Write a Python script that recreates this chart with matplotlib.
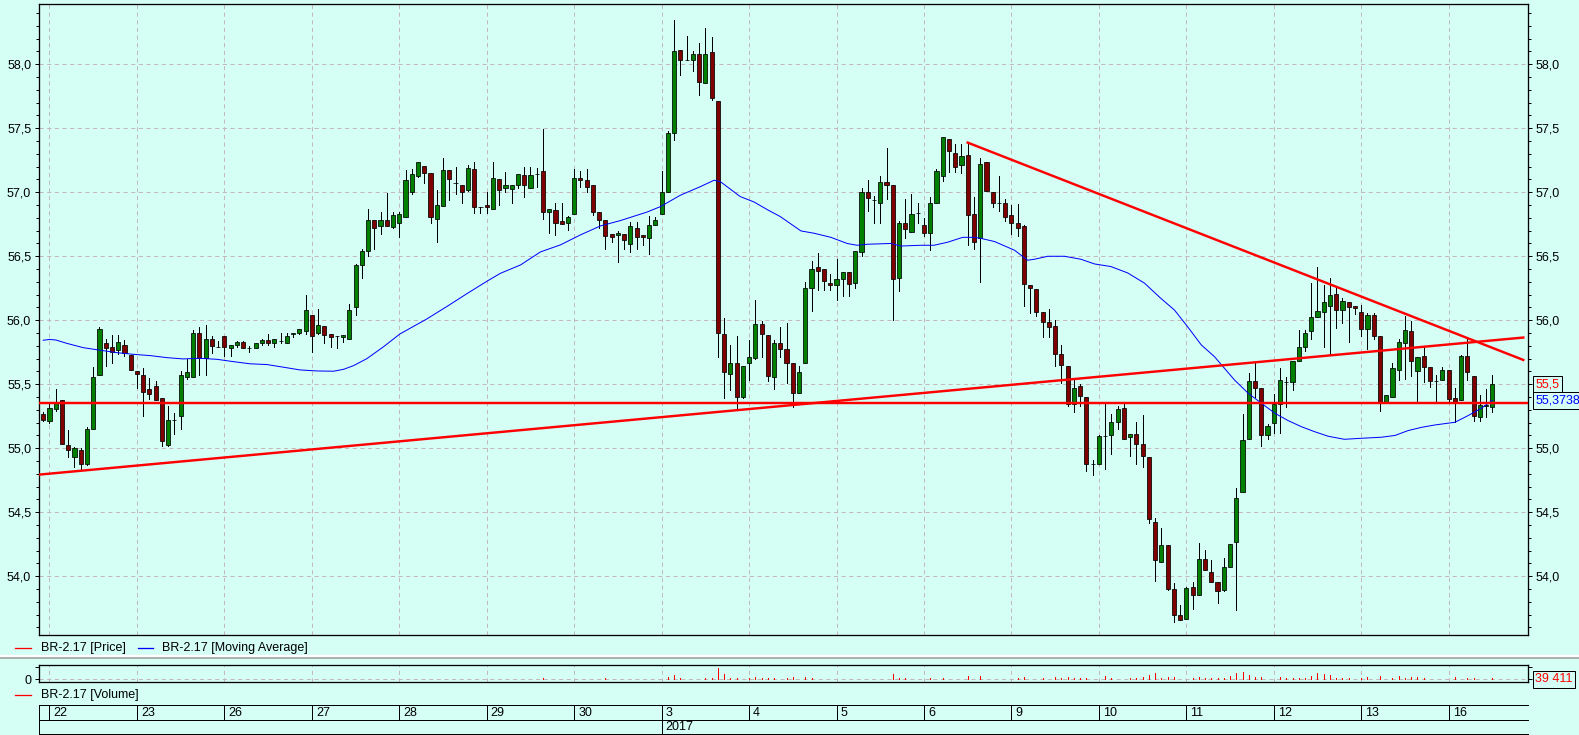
import matplotlib
matplotlib.use('Agg')
import matplotlib.pyplot as plt
from matplotlib.lines import Line2D
from matplotlib.ticker import MultipleLocator, FuncFormatter, FixedLocator

plt.rcParams['font.family'] = ['Liberation Sans Narrow', 'Liberation Sans', 'DejaVu Sans']
plt.rcParams['lines.scale_dashes'] = False
plt.rcParams['font.size'] = 9

# ---------------- data ----------------
opens = [
 55.27, 55.21, 55.31, 55.375, 55.026, 54.93, 54.99, 54.875, 55.15, 55.57, 55.82, 55.79, 55.766, 55.805, 55.73,
 55.604, 55.57, 55.464, 55.484, 55.39, 55.028, 55.22, 55.25, 55.56, 55.555, 55.9, 55.706, 55.85, 55.79,
 55.875, 55.786, 55.805, 55.83, 55.786, 55.78, 55.826, 55.844, 55.82, 55.84, 55.825, 55.89, 55.9, 55.92,
 56.04, 55.9, 55.953, 55.893, 55.878, 55.872, 55.85, 56.1, 56.43, 56.54, 56.78, 56.74, 56.78, 56.732,
 56.758, 56.805, 57.0, 57.13, 57.203, 57.148, 56.79, 56.89, 57.172, 57.076, 57.06, 57.02, 57.18, 56.888,
 56.9, 56.872, 57.1, 57.03, 57.023, 57.055, 57.133, 57.03, 57.14, 57.17, 56.844, 56.86, 56.774, 56.758,
 56.83, 57.11, 57.094, 57.055, 56.844, 56.78, 56.672, 56.664, 56.672, 56.594, 56.72, 56.664, 56.64, 56.742,
 56.83, 57.0, 57.46, 58.11, 58.03, 58.03, 58.078, 57.852, 58.094, 57.711, 55.89, 55.578, 55.664, 55.398,
 55.664, 55.703, 55.969, 55.883, 55.555, 55.82, 55.773, 55.664, 55.43, 55.664, 56.25, 56.414, 56.398, 56.29,
 56.273, 56.32, 56.375, 56.289, 56.53, 57.0, 56.94, 56.92, 57.078, 57.055, 56.328, 56.758, 56.688, 56.836,
 56.742, 56.68, 56.92, 57.13, 57.42, 57.31, 57.21, 57.29, 56.828, 56.64, 57.234, 57.0, 56.92, 56.914,
 56.82, 56.758, 56.734, 56.273, 56.242, 56.063, 55.984, 55.953, 55.734, 55.64, 55.344, 55.484, 55.398, 54.875,
 54.875, 55.094, 55.1, 55.203, 55.313, 55.086, 55.11, 55.031, 54.93, 54.427, 54.109, 54.242, 53.904, 53.695,
 53.669, 53.914, 53.852, 54.133, 54.031, 53.953, 53.891, 54.07, 54.266, 54.656, 55.07, 55.523, 55.469, 55.102,
 55.195, 55.344, 55.52, 55.516, 55.68, 55.789, 55.914, 56.023, 56.0625, 56.109, 56.203, 56.078, 56.14, 56.109,
 56.0625, 55.93, 56.039, 55.875, 55.359, 55.398, 55.61, 55.82, 55.914, 55.602, 55.719, 55.633, 55.526, 55.531,
 55.609, 55.39, 55.375, 55.719, 55.563, 55.242, 55.328, 55.32]
highs = [
 55.28, 55.35, 55.46, 55.38, 55.143, 55.008, 55.0, 55.167, 55.633, 55.948, 55.85, 55.885, 55.885, 55.846, 55.73,
 55.605, 55.628, 55.55, 55.526, 55.39, 55.33, 55.273, 55.6, 55.695, 55.925, 55.95, 55.96, 55.878, 55.84,
 55.875, 55.805, 55.836, 55.84, 55.8, 55.82, 55.85, 55.893, 55.85, 55.9, 55.9, 55.9, 55.93, 56.198,
 56.04, 56.086, 55.953, 55.893, 55.878, 55.883, 56.13, 56.437, 56.555, 56.87, 56.78, 56.846, 56.997, 56.846,
 56.846, 57.172, 57.18, 57.24, 57.203, 57.148, 57.018, 57.27, 57.172, 57.2, 57.06, 57.21, 57.24, 56.888,
 57.0, 57.24, 57.1, 57.156, 57.055, 57.14, 57.195, 57.195, 57.19, 57.495, 56.872, 56.914, 56.914, 56.815,
 57.18, 57.164, 57.18, 57.055, 56.844, 56.78, 56.672, 56.698, 56.672, 56.766, 56.766, 56.664, 56.813, 56.81,
 57.17, 57.477, 58.344, 58.11, 58.22, 58.1, 58.17, 58.28, 58.21, 57.711, 56.02, 55.807, 55.875, 55.64,
 55.846, 56.16, 55.995, 55.883, 55.846, 55.945, 55.977, 55.664, 55.64, 56.302, 56.46, 56.523, 56.398, 56.36,
 56.477, 56.375, 56.375, 56.539, 57.03, 57.094, 56.97, 57.125, 57.344, 57.055, 56.773, 56.945, 56.99, 56.914,
 56.797, 56.96, 57.18, 57.43, 57.42, 57.375, 57.38, 57.38, 56.96, 57.27, 57.24, 57.0, 57.13, 56.945,
 56.9, 56.906, 56.742, 56.273, 56.242, 56.063, 56.09, 56.0, 55.805, 55.64, 55.547, 55.5, 55.398, 54.906,
 55.1, 55.35, 55.268, 55.33, 55.344, 55.11, 55.203, 55.258, 54.93, 54.453, 54.377, 54.242, 53.945, 53.776,
 53.914, 53.956, 54.258, 54.203, 54.125, 53.953, 54.141, 54.25, 54.688, 55.266, 55.586, 55.664, 55.469, 55.187,
 55.424, 55.625, 55.56, 55.68, 55.922, 55.922, 56.289, 56.42, 56.273, 56.328, 56.266, 56.172, 56.14, 56.109,
 56.117, 56.055, 56.055, 55.875, 55.414, 55.664, 55.852, 56.031, 55.992, 55.711, 55.789, 55.633, 55.57, 55.633,
 55.609, 55.469, 55.727, 55.852, 55.563, 55.414, 55.461, 55.57]
lows = [
 55.21, 55.2, 55.29, 55.03, 54.93, 54.85, 54.83, 54.87, 55.15, 55.57, 55.646, 55.67, 55.74, 55.72, 55.61,
 55.474, 55.255, 55.385, 55.38, 55.02, 55.02, 55.115, 55.154, 55.54, 55.555, 55.576, 55.576, 55.747, 55.79,
 55.72, 55.72, 55.794, 55.78, 55.755, 55.78, 55.81, 55.81, 55.794, 55.82, 55.82, 55.867, 55.89, 55.89,
 55.75, 55.89, 55.82, 55.794, 55.786, 55.83, 55.85, 56.044, 56.333, 56.5, 56.56, 56.674, 56.734, 56.72,
 56.654, 56.805, 56.99, 57.12, 57.076, 56.763, 56.615, 56.89, 56.94, 56.99, 56.92, 57.01, 56.836, 56.836,
 56.836, 56.867, 56.9, 57.0, 56.92, 57.03, 56.966, 57.03, 57.04, 56.79, 56.68, 56.67, 56.75, 56.708,
 56.83, 57.04, 57.0, 56.82, 56.72, 56.56, 56.61, 56.458, 56.56, 56.536, 56.56, 56.586, 56.516, 56.742,
 56.83, 57.0, 57.406, 57.92, 58.03, 57.945, 57.758, 57.852, 57.72, 55.71, 55.39, 55.458, 55.3, 55.39,
 55.53, 55.7, 55.71, 55.528, 55.46, 55.711, 55.508, 55.325, 55.43, 55.664, 56.076, 56.24, 56.24, 56.24,
 56.156, 56.19, 56.19, 56.25, 56.5, 56.852, 56.758, 56.758, 56.945, 56.0, 56.227, 56.64, 56.688, 56.758,
 56.656, 56.547, 56.92, 57.086, 57.156, 57.156, 57.148, 56.586, 56.56, 56.297, 57.008, 56.883, 56.85, 56.773,
 56.672, 56.656, 56.11, 56.06, 56.03, 55.867, 55.867, 55.64, 55.51, 55.33, 55.28, 55.33, 54.82, 54.79,
 54.875, 54.84, 54.953, 55.148, 55.07, 54.94, 54.88, 54.85, 54.419, 53.966, 54.109, 53.893, 53.64, 53.659,
 53.669, 53.742, 53.852, 54.047, 53.953, 53.789, 53.883, 54.07, 53.734, 54.656, 55.07, 55.4, 55.021, 55.07,
 55.117, 55.117, 55.32, 55.453, 55.68, 55.758, 55.852, 56.023, 55.79, 55.734, 55.937, 55.977, 55.828, 56.047,
 55.88, 55.773, 55.852, 55.289, 55.359, 55.398, 55.531, 55.539, 55.563, 55.359, 55.516, 55.477, 55.359, 55.531,
 55.359, 55.203, 55.375, 55.531, 55.211, 55.211, 55.242, 55.281]
closes = [
 55.22, 55.315, 55.35, 55.036, 54.99, 55.0, 54.875, 55.15, 55.555, 55.93, 55.78, 55.75, 55.83, 55.747, 55.61,
 55.578, 55.443, 55.427, 55.38, 55.06, 55.22, 55.22, 55.57, 55.594, 55.9, 55.706, 55.85, 55.8, 55.79,
 55.79, 55.805, 55.83, 55.78, 55.786, 55.82, 55.846, 55.82, 55.85, 55.84, 55.88, 55.9, 55.93, 56.078,
 55.88, 55.96, 55.883, 55.872, 55.878, 55.883, 56.078, 56.43, 56.54, 56.78, 56.72, 56.78, 56.734, 56.82,
 56.83, 57.094, 57.14, 57.24, 57.148, 56.805, 56.898, 57.172, 57.1, 57.076, 57.0, 57.19, 56.883, 56.888,
 56.883, 57.11, 57.02, 57.055, 57.055, 57.14, 57.055, 57.133, 57.14, 56.844, 56.872, 56.76, 56.75, 56.805,
 57.11, 57.094, 57.04, 56.844, 56.78, 56.66, 56.65, 56.68, 56.625, 56.734, 56.648, 56.648, 56.742, 56.78,
 57.0, 57.46, 58.1, 58.03, 58.03, 58.078, 57.86, 58.078, 57.734, 55.9, 55.594, 55.664, 55.398, 55.64,
 55.711, 55.969, 55.89, 55.563, 55.82, 55.773, 55.664, 55.43, 55.594, 56.25, 56.398, 56.383, 56.305, 56.273,
 56.32, 56.375, 56.28, 56.539, 57.0, 56.953, 56.94, 57.078, 57.06, 56.32, 56.758, 56.71, 56.828, 56.836,
 56.68, 56.92, 57.164, 57.43, 57.32, 57.2, 57.28, 56.82, 56.61, 57.22, 57.008, 56.914, 56.92, 56.81,
 56.758, 56.72, 56.28, 56.25, 56.063, 55.984, 55.945, 55.734, 55.648, 55.344, 55.47, 55.406, 54.875, 54.875,
 55.094, 55.094, 55.203, 55.305, 55.07, 55.11, 55.031, 54.937, 54.445, 54.125, 54.247, 53.901, 53.695, 53.659,
 53.906, 53.852, 54.133, 54.047, 53.953, 53.883, 54.07, 54.25, 54.61, 55.063, 55.523, 55.469, 55.102, 55.172,
 55.344, 55.531, 55.52, 55.68, 55.79, 55.898, 56.023, 56.07, 56.14, 56.195, 56.078, 56.148, 56.1, 56.094,
 55.93, 56.039, 55.875, 55.359, 55.414, 55.625, 55.828, 55.922, 55.68, 55.711, 55.633, 55.523, 55.526, 55.609,
 55.383, 55.352, 55.719, 55.594, 55.25, 55.336, 55.341, 55.5]

# volume per bar (contracts); no trades shown before Dec 29
volumes = [0] * 71 + [
 15000, 15000, 10000, 10000, 10000, 10000, 10000, 10000, 15000, 52000, 15000, 10000, 10000, 10000,
 10000, 15000, 10000, 10000, 28000, 52000, 15000, 15000, 15000, 10000, 10000, 10000, 15000, 10000,
 28000, 91000, 171000, 52000, 15000, 15000, 28000, 52000, 67000, 449000, 210000, 52000, 52000, 15000,
 52000, 91000, 52000, 52000, 52000, 15000, 52000, 91000, 15000, 91000, 52000, 15000, 15000, 10000,
 10000, 10000, 10000, 15000, 15000, 15000, 15000, 15000, 15000, 210000, 52000, 52000, 15000, 10000,
 10000, 52000, 15000, 52000, 15000, 15000, 15000, 131000, 15000, 131000, 15000, 15000, 15000, 15000,
 28000, 52000, 91000, 28000, 28000, 52000, 28000, 91000, 52000, 91000, 40000, 52000, 52000, 28000,
 15000, 131000, 52000, 15000, 15000, 52000, 67000, 91000, 171000, 250000, 52000, 91000, 91000, 28000,
 15000, 52000, 91000, 52000, 40000, 52000, 52000, 131000, 250000, 290000, 171000, 91000, 91000, 15000,
 15000, 91000, 52000, 52000, 52000, 52000, 131000, 250000, 210000, 171000, 52000, 40000, 52000, 15000,
 52000, 91000, 15000, 131000, 28000, 52000, 131000, 67000, 91000, 91000, 40000, 28000, 15000, 15000,
 15000, 91000, 28000, 52000, 52000, 28000, 15000, 39411]

# moving average (bar position, value)
ma_pos = [0, 1, 2, 3.75, 6.4, 9.1, 11.8, 14.4, 17.1, 19.8, 22.4, 25.1, 27.8, 30.4, 33.1, 35.8, 38.5, 41.1,
          43.8, 46.5, 48.1, 49.7, 51.8, 54.5, 57.1, 61.4, 64.6, 67.9, 71.1, 73.2, 76.4, 79.6, 82.8, 86.0,
          89.2, 92.4, 96.7, 98.8, 102.0, 105.2, 107.4, 108.4, 111.6, 113.8, 116.0, 118.0, 121.3, 123.4,
          126.1, 128.7, 130.3, 131.9, 135.7, 137.3, 140.5, 142.6, 144.8, 147.2, 149.0, 150.1, 152.3, 155.5,
          157.6, 158.7, 160.8, 163.5, 166.1, 168.3, 170.9, 173.6, 176.3, 178.9, 181.1, 183.2, 185.4, 187.5,
          189.1, 190.7, 192.9, 195.0, 197.2, 199.3, 201.4, 203.5, 205.7, 208.3, 211.0, 214.2, 216.4, 218.5,
          220.7, 222.8, 226.0, 228.1, 230.2, 232.0]
ma_val = [55.844, 55.85, 55.846, 55.82, 55.786, 55.766, 55.747, 55.734, 55.724, 55.708, 55.698, 55.703,
          55.695, 55.677, 55.66, 55.654, 55.633, 55.612, 55.604, 55.602, 55.617, 55.646, 55.70, 55.794,
          55.893, 56.01, 56.107, 56.21, 56.307, 56.367, 56.432, 56.534, 56.589, 56.667, 56.737, 56.779,
          56.846, 56.888, 56.977, 57.044, 57.094, 57.083, 56.966, 56.924, 56.862, 56.81, 56.698, 56.68,
          56.648, 56.60, 56.586, 56.594, 56.60, 56.58, 56.586, 56.586, 56.61, 56.648, 56.648, 56.64,
          56.615, 56.547, 56.469, 56.477, 56.5, 56.5, 56.477, 56.44, 56.42, 56.37, 56.29, 56.172, 56.08,
          55.95, 55.807, 55.716, 55.625, 55.534, 55.43, 55.352, 55.273, 55.216, 55.169, 55.13, 55.094,
          55.07, 55.078, 55.086, 55.10, 55.138, 55.164, 55.182, 55.203, 55.255, 55.312, 55.374]
ma_last = 55.3738

# user-drawn lines (bar position, price)
support_line = ([-0.68, 236.95], [54.794, 55.865])
resistance_line = ([148.0, 236.95], [57.388, 55.69])
level_price = 55.355

day_labels = ['22', '23', '26', '27', '28', '29', '30', '3', '4', '5', '6', '9', '10', '11', '12', '13', '16']
bars_per_day = 14
first_day_bar = 1
year_label = '2017'
year_day = '3'
series_name = 'BR-2.17'

# ---------------- style / layout ----------------
W, H = 1579, 735
BG = '#d5fef5'
GRID = '#c4b8b8'
GREEN = '#008000'
DRED = '#800000'
XMIN, XMAX = -0.68, 237.7
DASH = (0, (3, 2.5))
PX = 0.72  # one pixel in points

fig = plt.figure(figsize=(W / 100, H / 100), dpi=100, facecolor=BG)

def fig_line(x0, x1, y0, y1, **kw):
    fig.add_artist(Line2D([x0 / W, x1 / W], [1 - y0 / H, 1 - y1 / H],
                          transform=fig.transFigure, **kw))

def comma(v, p=None):
    return f"{v:.1f}".replace('.', ',')

day_pos = [first_day_bar + bars_per_day * k for k in range(len(day_labels))]
n = len(closes)
idx = list(range(n))

# ---------- main price panel ----------
ax = fig.add_axes([39 / W, 1 - 635 / H, 1489 / W, 631 / H])
ax.set_facecolor(BG)
ax.set_xlim(XMIN, XMAX)
ax.set_ylim(53.541, 58.471)
for s in ax.spines.values():
    s.set_linewidth(PX * 1.3)
    s.set_color('black')

ax.xaxis.set_major_locator(FixedLocator(day_pos))
ax.tick_params(axis='x', length=0, labelbottom=False)
ax.yaxis.set_major_locator(MultipleLocator(0.5))
ax.yaxis.set_minor_locator(MultipleLocator(0.1))
ax.yaxis.set_major_formatter(FuncFormatter(comma))
ax.tick_params(axis='y', which='both', left=True, right=True, labelleft=True,
               labelright=True, direction='out', width=PX, labelsize=9, pad=2.4)
ax.tick_params(axis='y', which='major', length=3.2)
ax.tick_params(axis='y', which='minor', length=2.4)
ax.grid(True, which='major', axis='both', color=GRID, linestyle=DASH, linewidth=PX)
ax.set_axisbelow(True)

lo = [min(l, o, c) for l, o, c in zip(lows, opens, closes)]
hi = [max(h, o, c) for h, o, c in zip(highs, opens, closes)]
ax.vlines(idx, lo, hi, color='black', linewidth=PX, zorder=2, antialiased=False)
body_bottom = [min(o, c) for o, c in zip(opens, closes)]
body_h = [abs(c - o) for o, c in zip(opens, closes)]
colors = [GREEN if c >= o else DRED for o, c in zip(opens, closes)]
ax.bar(idx, body_h, bottom=body_bottom, width=0.66, color=colors, edgecolor='black',
       linewidth=0.55, zorder=3)

ax.plot(ma_pos, ma_val, color='#0000ff', linewidth=PX, zorder=4)
ax.plot(support_line[0], support_line[1], color='#ff0000', linewidth=1.75, zorder=5)
ax.plot(resistance_line[0], resistance_line[1], color='#ff0000', linewidth=1.75, zorder=5)
ax.axhline(level_price, color='#ff0000', linewidth=1.75, zorder=5)

box = dict(boxstyle='square,pad=0.2', fc=BG, ec='black', lw=PX)
ax.annotate(comma(closes[-1]), xy=(1, closes[-1]), xycoords=('axes fraction', 'data'),
            xytext=(5.2, 0), textcoords='offset points', ha='left', va='center',
            color='#ff0000', fontsize=9, bbox=box, zorder=10, annotation_clip=False)
ax.annotate(f"{ma_last:.4f}".replace('.', ','), xy=(1, ma_last), xycoords=('axes fraction', 'data'),
            xytext=(5.2, 0), textcoords='offset points', ha='left', va='center',
            color='#0000ff', fontsize=9, bbox=box, zorder=10, annotation_clip=False)

# ---------- legend lines ----------
fig_line(15, 31, 648, 648, color='#ff0000', lw=PX * 1.3)
fig.text(40.8 / W, 1 - 648 / H, f'{series_name} [Price]', va='center', ha='left', fontsize=9)
fig_line(138, 153, 648, 648, color='#0000ff', lw=PX * 1.3)
fig.text(162 / W, 1 - 648 / H, f'{series_name} [Moving Average]', va='center', ha='left', fontsize=9)

fig_line(0, W, 656, 656, color='white', lw=1.5)
fig_line(0, W, 658, 658, color='#a8a8a8', lw=1.3)

# ---------- volume panel ----------
vax = fig.add_axes([39 / W, 1 - 682 / H, 1489 / W, 17 / H])
vax.set_facecolor(BG)
vax.set_xlim(XMIN, XMAX)
vax.set_ylim(-107000, 568000)
for s in vax.spines.values():
    s.set_linewidth(PX * 1.3)
vax.xaxis.set_major_locator(FixedLocator(day_pos))
vax.tick_params(axis='x', length=0, labelbottom=False)
vax.grid(True, axis='x', color=GRID, linestyle=DASH, linewidth=PX)
vax.axhline(0, color=GRID, linestyle=DASH, linewidth=PX, zorder=1)
vax.yaxis.set_major_locator(FixedLocator([0, 500000]))
vax.yaxis.set_major_formatter(FuncFormatter(lambda v, p: '0' if v == 0 else ''))
vax.tick_params(axis='y', left=True, right=True, labelleft=True, labelright=False,
                direction='out', length=3.2, width=PX, labelsize=9, pad=2.4)
vax.vlines(idx, 0, volumes, color='#ff0000', linewidth=PX, zorder=3, antialiased=False)
vax.annotate(f"{volumes[-1]:,.0f}".replace(',', ' '), xy=(1, 0), xycoords=('axes fraction', 'data'),
             xytext=(5.2, 0), textcoords='offset points', ha='left', va='center',
             color='#ff0000', fontsize=9, bbox=box, zorder=10, annotation_clip=False)

fig_line(15, 31, 695, 695, color='#ff0000', lw=PX * 1.3)
fig.text(40.8 / W, 1 - 695 / H, f'{series_name} [Volume]', va='center', ha='left', fontsize=9)

# ---------- date axis ----------
dax = fig.add_axes([39 / W, 0, 1489 / W, 35 / H])
dax.set_xlim(XMIN, XMAX)
dax.set_ylim(735, 700)
dax.axis('off')
lk = dict(color='black', linewidth=PX, clip_on=False, antialiased=False)
for yy in (704.5, 719.5, 734):
    dax.plot([XMIN, XMAX], [yy, yy], **lk)
dax.plot([XMIN, XMIN], [704.5, 734], **lk)
for p, lab in zip(day_pos, day_labels):
    dax.plot([p, p], [704.5, 719.5], **lk)
    dax.text(p + 0.65, 712.5, lab, ha='left', va='center', fontsize=9)
yp = day_pos[day_labels.index(year_day)]
dax.plot([yp, yp], [719.5, 734], **lk)
dax.text(yp + 0.65, 727, year_label, ha='left', va='center', fontsize=9)

fig.savefig('out.png', dpi=100, facecolor=BG)
